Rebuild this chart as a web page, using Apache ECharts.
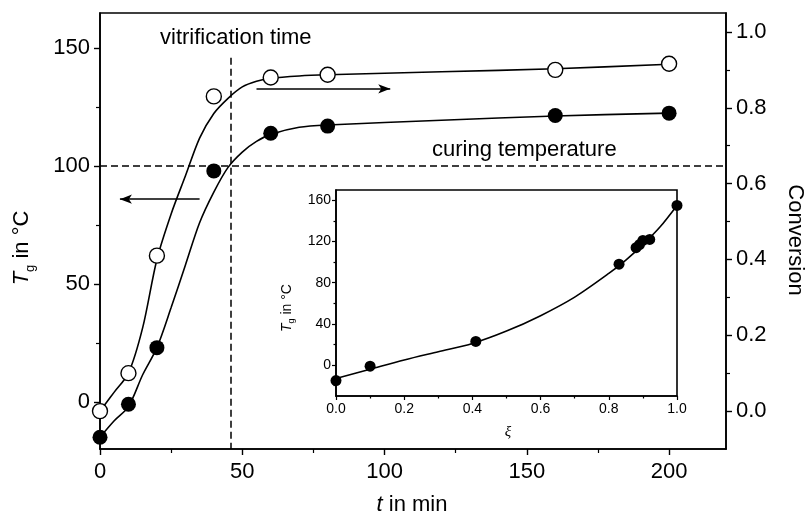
<!DOCTYPE html>
<html><head><meta charset="utf-8">
<script src="https://cdn.jsdelivr.net/npm/echarts@6/dist/echarts.min.js"></script>
<style>html,body{margin:0;padding:0;background:#fff}#c{width:812px;height:518px}</style>
</head><body><div id="c"></div>
<script>
// ---- data ----
var timeMin = [0, 10, 20, 40, 60, 80, 160, 200];
var tgMeasured = [-15, -1, 23, 98, 114, 117, 121.5, 122.5];
var convMeasured = [0.0, 0.10, 0.41, 0.83, 0.88, 0.887, 0.90, 0.916];

var tgFitTime = [0, 5, 10, 15, 20, 25, 30, 35, 40, 45, 50, 55, 60, 70, 80, 120, 160, 200];
var tgFitValues = [-15, -8, -2, 11.5, 23, 40, 58, 76, 89, 99.5, 106, 110.5, 113.5, 116.5, 117.5, 119.5, 121.3, 122.5];

var convFitTime = [0, 2, 5, 10, 15, 20, 25, 30, 35, 40, 45, 50, 55, 60, 70, 80, 120, 160, 200];
var convFitValues = [0.0, 0.02, 0.05, 0.10, 0.22, 0.40, 0.52, 0.62, 0.72, 0.785, 0.825, 0.855, 0.87, 0.878, 0.884, 0.887, 0.895, 0.903, 0.915];

var insetXi = [0, 0.10, 0.41, 0.83, 0.88, 0.89, 0.90, 0.92, 1.0];
var insetTg = [-15, -1, 23, 98, 114, 117, 121, 122, 155];
var insetFitXi = [0, 0.1, 0.2, 0.3, 0.4, 0.5, 0.6, 0.7, 0.8, 0.85, 0.9, 0.95, 1.0];
var insetFitTg = [-13, -4, 5, 13, 21, 33, 48, 66, 89, 102, 117, 134, 155];

var xTicks = [0, 50, 100, 150, 200], xMinor = [25, 75, 125, 175];
var tgTicks = [0, 50, 100, 150], tgMinor = [25, 75, 125];
var convTicks = [0.0, 0.2, 0.4, 0.6, 0.8, 1.0], convMinor = [0.1, 0.3, 0.5, 0.7, 0.9];
var inXTicks = [0, 0.2, 0.4, 0.6, 0.8, 1.0], inXMinor = [0.1, 0.3, 0.5, 0.7, 0.9];
var inYTicks = [0, 40, 80, 120, 160], inYMinor = [-20, 20, 60, 100, 140];

var curingTemp = 100, vitrTime = 46;

function pairs(a, b) { return a.map(function (v, i) { return [v, b[i]]; }); }

var FONT = 'Liberation Sans, Arial, sans-serif';
var black = '#000';
function mainAxis(extra) {
  var o = {
    type: 'value', splitLine: { show: false },
    axisLine: { show: true, onZero: false, lineStyle: { color: black, width: 1.6 } },
    axisTick: { show: true, length: 6, lineStyle: { color: black, width: 1.4 } },
    axisLabel: { color: black, fontSize: 22, fontFamily: FONT }
  };
  for (var k in extra) o[k] = extra[k];
  return o;
}
function minorAxis(extra, vals, len) {
  var o = {
    type: 'value', splitLine: { show: false },
    axisLine: { show: false, onZero: false },
    axisTick: { show: true, length: len, customValues: vals, lineStyle: { color: black, width: 1.2 } },
    axisLabel: { show: false }
  };
  for (var k in extra) o[k] = extra[k];
  return o;
}

var chart = echarts.init(document.getElementById('c'), null, { renderer: 'canvas' });
var option = {
  animation: false,
  backgroundColor: '#fff',
  grid: [
    { left: 100, top: 13, right: 86, bottom: 69, show: true, borderColor: black, borderWidth: 1.6, backgroundColor: 'transparent' },
    { left: 336, top: 190, right: 135, bottom: 122, show: true, borderColor: black, borderWidth: 1.6, backgroundColor: '#fff' }
  ],
  xAxis: [
    mainAxis({ gridIndex: 0, min: 0, max: 220, position: 'bottom',
      axisTick: { show: true, length: 6, customValues: xTicks, lineStyle: { color: black, width: 1.4 } },
      axisLabel: { color: black, fontSize: 22, fontFamily: FONT, margin: 12, customValues: xTicks } }),
    minorAxis({ gridIndex: 0, min: 0, max: 220, position: 'bottom' }, xMinor, 4),
    mainAxis({ gridIndex: 1, min: 0, max: 1, position: 'bottom',
      axisTick: { show: true, length: 4, customValues: inXTicks, lineStyle: { color: black, width: 1.2 } },
      axisLabel: { color: black, fontSize: 14, fontFamily: FONT, margin: 6, customValues: inXTicks,
        formatter: function (v) { return v.toFixed(1); } } }),
    minorAxis({ gridIndex: 1, min: 0, max: 1, position: 'bottom' }, inXMinor, 2.5)
  ],
  yAxis: [
    mainAxis({ gridIndex: 0, min: -20, max: 165, position: 'left',
      axisTick: { show: true, length: 6, customValues: tgTicks, lineStyle: { color: black, width: 1.4 } },
      axisLabel: { color: black, fontSize: 22, fontFamily: FONT, margin: 10, customValues: tgTicks } }),
    minorAxis({ gridIndex: 0, min: -20, max: 165, position: 'left' }, tgMinor, 4),
    mainAxis({ gridIndex: 0, min: -0.1, max: 1.05, position: 'right',
      axisTick: { show: true, length: 6, customValues: convTicks, lineStyle: { color: black, width: 1.4 } },
      axisLabel: { color: black, fontSize: 22, fontFamily: FONT, margin: 10, customValues: convTicks,
        formatter: function (v) { return v.toFixed(1); } } }),
    minorAxis({ gridIndex: 0, min: -0.1, max: 1.05, position: 'right' }, convMinor, 4),
    mainAxis({ gridIndex: 1, min: -30, max: 170, position: 'left',
      axisTick: { show: true, length: 4, customValues: inYTicks, lineStyle: { color: black, width: 1.2 } },
      axisLabel: { color: black, fontSize: 14, fontFamily: FONT, margin: 5, customValues: inYTicks } }),
    minorAxis({ gridIndex: 1, min: -30, max: 170, position: 'left' }, inYMinor, 2.5)
  ],
  series: [
    { type: 'line', xAxisIndex: 0, yAxisIndex: 2, data: pairs(convFitTime, convFitValues), smooth: 0.3,
      showSymbol: false, symbol: 'none', lineStyle: { color: black, width: 1.6 }, z: 3,
      markLine: { silent: true, symbol: ['none', 'arrow'], symbolSize: [7, 12], label: { show: false },
        lineStyle: { color: black, width: 1.6, type: 'solid' },
        data: [[{ coord: [55, 0.85] }, { coord: [102, 0.85] }]] } },
    { type: 'line', xAxisIndex: 0, yAxisIndex: 0, data: pairs(tgFitTime, tgFitValues), smooth: 0.3,
      showSymbol: false, symbol: 'none', lineStyle: { color: black, width: 1.6 }, z: 3,
      markLine: { silent: true, symbol: ['none', 'none'], label: { show: false },
        lineStyle: { color: black, width: 1.5, type: [7, 4] },
        data: [
          { yAxis: curingTemp },
          [{ coord: [vitrTime, 146] }, { coord: [vitrTime, -20] }],
          [{ coord: [35, 86], symbol: 'none', lineStyle: { type: 'solid', width: 1.6 } },
           { coord: [7, 86], symbol: 'arrow', symbolSize: [7, 12] }]
        ] } },
    { type: 'scatter', xAxisIndex: 0, yAxisIndex: 2, data: pairs(timeMin, convMeasured), symbol: 'circle', symbolSize: 15,
      itemStyle: { color: '#fff', borderColor: black, borderWidth: 1.4, opacity: 1 }, z: 5 },
    { type: 'scatter', xAxisIndex: 0, yAxisIndex: 0, data: pairs(timeMin, tgMeasured), symbol: 'circle', symbolSize: 15,
      itemStyle: { color: black, opacity: 1 }, z: 5 },
    { type: 'line', xAxisIndex: 2, yAxisIndex: 4, data: pairs(insetFitXi, insetFitTg), smooth: 0.3,
      showSymbol: false, symbol: 'none', lineStyle: { color: black, width: 1.6 }, z: 3 },
    { type: 'scatter', xAxisIndex: 2, yAxisIndex: 4, data: pairs(insetXi, insetTg), symbol: 'circle', symbolSize: 11,
      itemStyle: { color: black, opacity: 1 }, z: 5 }
  ],
  graphic: [
    { type: 'text', left: 160, top: 27, style: { text: 'vitrification time', fill: black, font: '22px ' + FONT } },
    { type: 'text', left: 432, top: 139, style: { text: 'curing temperature', fill: black, font: '22px ' + FONT } },
    { type: 'text', x: 22, y: 248, rotation: Math.PI / 2,
      style: { text: '{i|T}{s|g} in °C', fill: black, font: '22px ' + FONT, align: 'center', verticalAlign: 'middle',
        rich: { i: { fontStyle: 'italic', fontSize: 22, lineHeight: 30, fontFamily: FONT },
                s: { fontSize: 13, lineHeight: 13, verticalAlign: 'bottom', fontFamily: FONT } } } },
    { type: 'text', x: 795, y: 240, rotation: -Math.PI / 2,
      style: { text: 'Conversion', fill: black, font: '22px ' + FONT, align: 'center', verticalAlign: 'middle' } },
    { type: 'text', x: 412, y: 505,
      style: { text: '{i|t} in min', fill: black, font: '22px ' + FONT, align: 'center', verticalAlign: 'middle',
        rich: { i: { fontStyle: 'italic', fontSize: 22, fontFamily: FONT } } } },
    { type: 'text', x: 287, y: 308, rotation: Math.PI / 2,
      style: { text: '{i|T}{s|g} in °C', fill: black, font: '14px ' + FONT, align: 'center', verticalAlign: 'middle',
        rich: { i: { fontStyle: 'italic', fontSize: 14, lineHeight: 19, fontFamily: FONT },
                s: { fontSize: 9, lineHeight: 9, verticalAlign: 'bottom', fontFamily: FONT } } } },
    { type: 'text', x: 508, y: 432,
      style: { text: 'ξ', fill: black, font: 'italic 15px Liberation Serif, serif', align: 'center', verticalAlign: 'middle' } }
  ]
};
chart.setOption(option);
</script></body></html>
